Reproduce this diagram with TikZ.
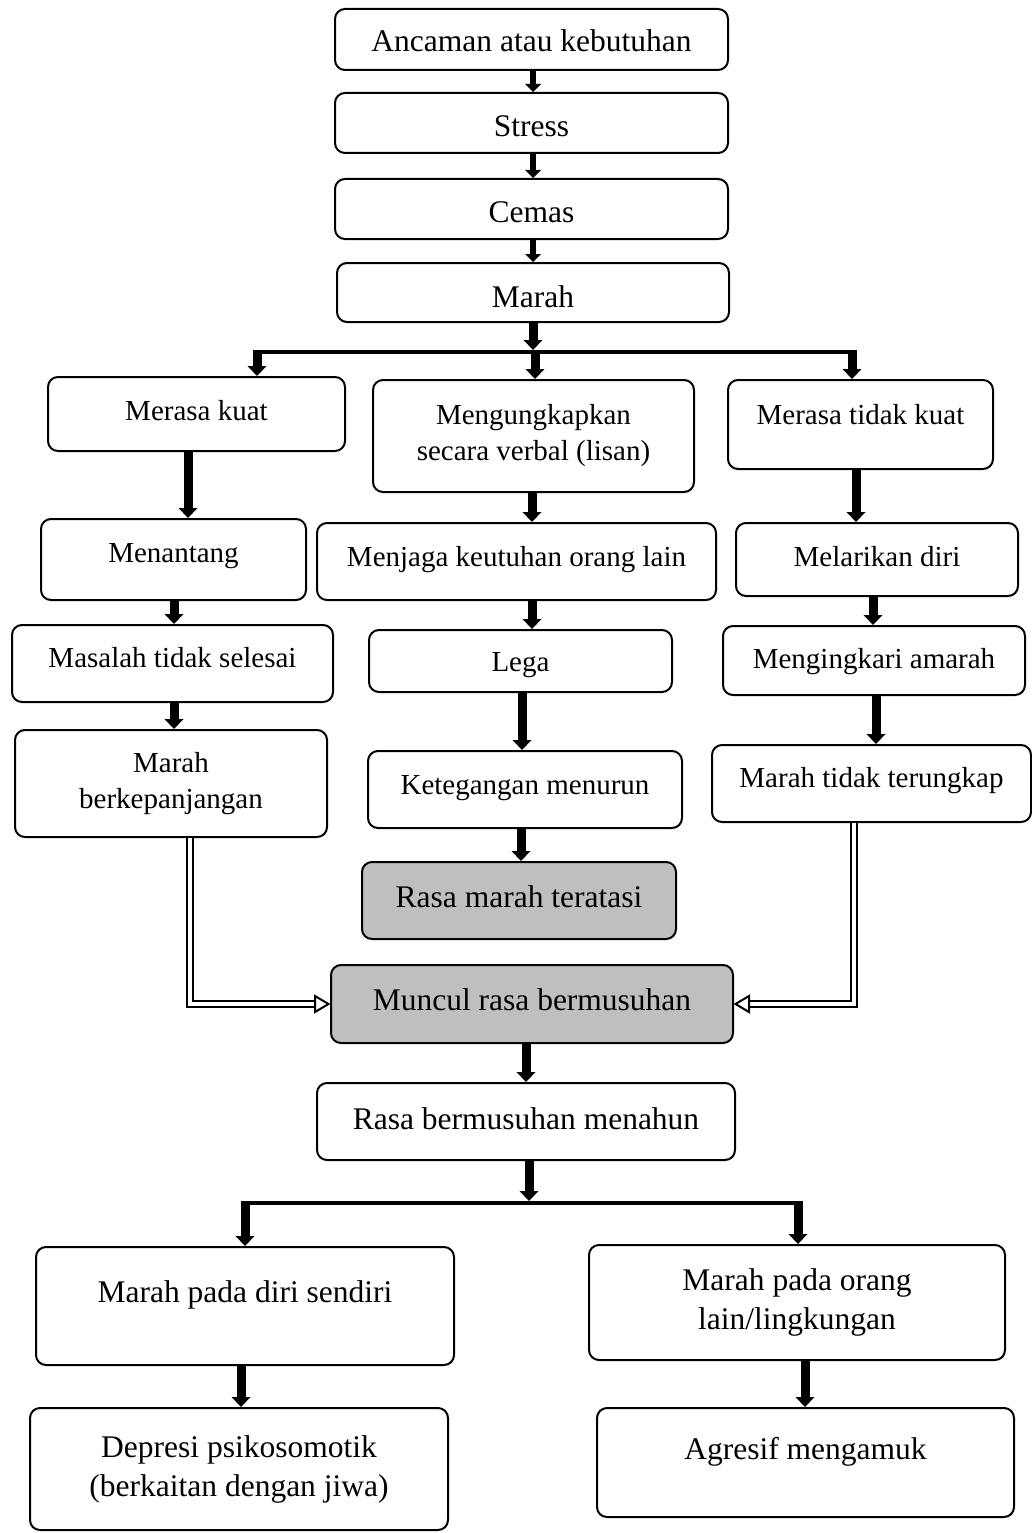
\documentclass[tikz,border=0pt]{standalone}
\usepackage{fontspec}
\setmainfont{Liberation Serif}
\usetikzlibrary{arrows.meta,calc}
\definecolor{boxgray}{RGB}{191,191,191}
\newcommand\txtup[2]{\raisebox{#1pt}{#2}}
\begin{document}
\begin{tikzpicture}[x=1pt,y=-1pt,
  box/.style={draw, line width=2pt, rounded corners=10pt, inner sep=0pt, fill=white},
  sm/.style={font=\fontsize{29}{36}\selectfont},
  bg/.style={font=\fontsize{31.5}{39}\selectfont},
  sm1/.style={sm, text height=20.3pt, text depth=7.25pt},
  bg1/.style={bg, text height=22.05pt, text depth=7.9pt},
  grayfill/.style={fill=boxgray},
  sz/.style 2 args={minimum width=#1pt, minimum height=#2pt},
  arr/.style={line width=9pt, -{Triangle[width=19pt,length=10pt,line width=0pt]}},
  arrs/.style={line width=6pt, -{Triangle[width=16pt,length=8pt,line width=0pt]}},
  barline/.style={line width=4.5pt},
  dbl/.style={line width=2pt, double=white, double distance=4pt, line join=miter},
  headopen/.style={line width=2pt, fill=white, line join=miter},
]
\fill[white] (0,0) rectangle (1032,1533);
\useasboundingbox (0,0) rectangle (1032,1533);

% top chain
\node[box,bg1,sz={393}{61}] (A) at (531.5,39.5) {\txtup{-5.4}{Ancaman atau kebutuhan}};
\node[box,bg1,sz={393}{60}] (S) at (531.5,123) {\txtup{-6.2}{Stress}};
\node[box,bg1,sz={393}{60}] (C) at (531.5,209) {\txtup{-6.2}{Cemas}};
\node[box,bg1,sz={392}{59}] (M) at (533,292.5) {\txtup{-7.7}{Marah}};

% three branches
\node[box,sm1,sz={297}{74}] (MK) at (196.5,414) {Merasa kuat};
\node[box,sm,align=center,sz={321}{112}] (MV) at (533.5,436) {Mengungkapkan\\secara verbal (lisan)};
\node[box,sm1,sz={265}{89}] (MTK) at (860.5,424.5) {\txtup{6.8}{Merasa tidak kuat}};

\node[box,sm1,sz={265}{81}] (Men) at (173.5,559.5) {\txtup{3.5}{Menantang}};
\node[box,sm1,sz={399}{77}] (MJ) at (516.5,561.5) {\txtup{2}{Menjaga keutuhan orang lain}};
\node[box,sm1,sz={282}{73}] (ML) at (877,559.5) {Melarikan diri};

\node[box,sm1,sz={321}{77}] (MS) at (172.5,663.5) {\txtup{2.3}{Masalah tidak selesai}};
\node[box,sm1,sz={303}{62}] (L) at (520.5,661) {\txtup{-4.2}{Lega}};
\node[box,sm1,sz={302}{69}] (MA) at (874,660.5) {\txtup{-1.7}{Mengingkari amarah}};

\node[box,sm,align=center,sz={312}{107}] (MB) at (171,783.5) {Marah\\berkepanjangan};
\node[box,sm1,sz={314}{77}] (K) at (525,789.5) {\txtup{1.3}{Ketegangan menurun}};
\node[box,sm1,sz={319}{77}] (MTT) at (871.5,783.5) {\txtup{2.3}{Marah tidak terungkap}};

\node[box,bg1,grayfill,sz={314}{77}] (RMT) at (519,900.5) {\txtup{0.3}{Rasa marah teratasi}};
\node[box,bg1,grayfill,sz={402}{78}] (Mun) at (532,1004) {\txtup{0.5}{Muncul rasa bermusuhan}};
\node[box,bg1,sz={418}{77}] (RBM) at (526,1121.5) {\txtup{-0.5}{Rasa bermusuhan menahun}};

\node[box,bg1,sz={418}{118}] (MPDS) at (245,1306) {\txtup{10.1}{Marah pada diri sendiri}};
\node[box,bg,align=center,sz={416}{115}] (MPOL) at (797,1302.5) {Marah pada orang\\lain/lingkungan};
\node[box,bg,align=center,sz={418}{122}] (D) at (239,1469) {Depresi psikosomotik\\(berkaitan dengan jiwa)};
\node[box,bg1,sz={417}{109}] (AG) at (805.5,1462.5) {\txtup{10}{Agresif mengamuk}};

% junction coordinates
\coordinate (j1) at (533,352);
\coordinate (b1L) at (257,352);
\coordinate (b1M) at (535,352);
\coordinate (b1R) at (852,352);
\coordinate (j2) at (529,1203);
\coordinate (b2L) at (245,1203);
\coordinate (b2R) at (798,1203);

% top arrows
\draw[arrs] (A.south -| 533,0) -- (S.north -| 533,0);
\draw[arrs] (S.south -| 533,0) -- (C.north -| 533,0);
\draw[arrs] (C.south -| 533,0) -- (M.north -| 533,0);
\draw[arr] (M.south -| 533,0) -- ([yshift=2pt]j1);
\draw[barline] ([xshift=-4.5pt]b1L) -- ([xshift=4.5pt]b1R);
\draw[arr] (b1L) -- (MK.north -| b1L);
\draw[arr] (b1M) -- (MV.north -| b1M);
\draw[arr] (b1R) -- (MTK.north -| b1R);

% column arrows
\draw[arr] (MK.south -| 188,0) -- (Men.north -| 188,0);
\draw[arr] (MV.south -| 532,0) -- (MJ.north -| 532,0);
\draw[arr] (MTK.south -| 856,0) -- (ML.north -| 856,0);
\draw[arr] (Men.south -| 174,0) -- (MS.north -| 174,0);
\draw[arr] (MJ.south -| 532,0) -- (L.north -| 532,0);
\draw[arr] (ML.south -| 873,0) -- (MA.north -| 873,0);
\draw[arr] (MS.south -| 174,0) -- (MB.north -| 174,0);
\draw[arr] (L.south -| 522,0) -- (K.north -| 522,0);
\draw[arr] (MA.south -| 876,0) -- (MTT.north -| 876,0);
\draw[arr] (K.south -| 521,0) -- (RMT.north -| 521,0);

% double connectors
\draw[dbl] (MB.south -| 190,0) |- ($(Mun.west)+(-14,0)$);
\draw[headopen] ($(Mun.west)+(-15,-8)$) -- ($(Mun.west)+(-1.5,0)$) -- ($(Mun.west)+(-15,8)$) -- cycle;
\draw[dbl] (MTT.south -| 854,0) |- ($(Mun.east)+(14,0)$);
\draw[headopen] ($(Mun.east)+(15,-8)$) -- ($(Mun.east)+(1.5,0)$) -- ($(Mun.east)+(15,8)$) -- cycle;

% lower arrows
\draw[arr] (Mun.south -| 526,0) -- (RBM.north -| 526,0);
\draw[arr] (RBM.south -| 529,0) -- ([yshift=2pt]j2);
\draw[barline] ([xshift=-4.5pt]b2L) -- ([xshift=4.5pt]b2R);
\draw[arr] (b2L) -- (MPDS.north -| b2L);
\draw[arr] (b2R) -- (MPOL.north -| b2R);
\draw[arr] (MPDS.south -| 241,0) -- (D.north -| 241,0);
\draw[arr] (MPOL.south -| 805,0) -- (AG.north -| 805,0);
\end{tikzpicture}
\end{document}
